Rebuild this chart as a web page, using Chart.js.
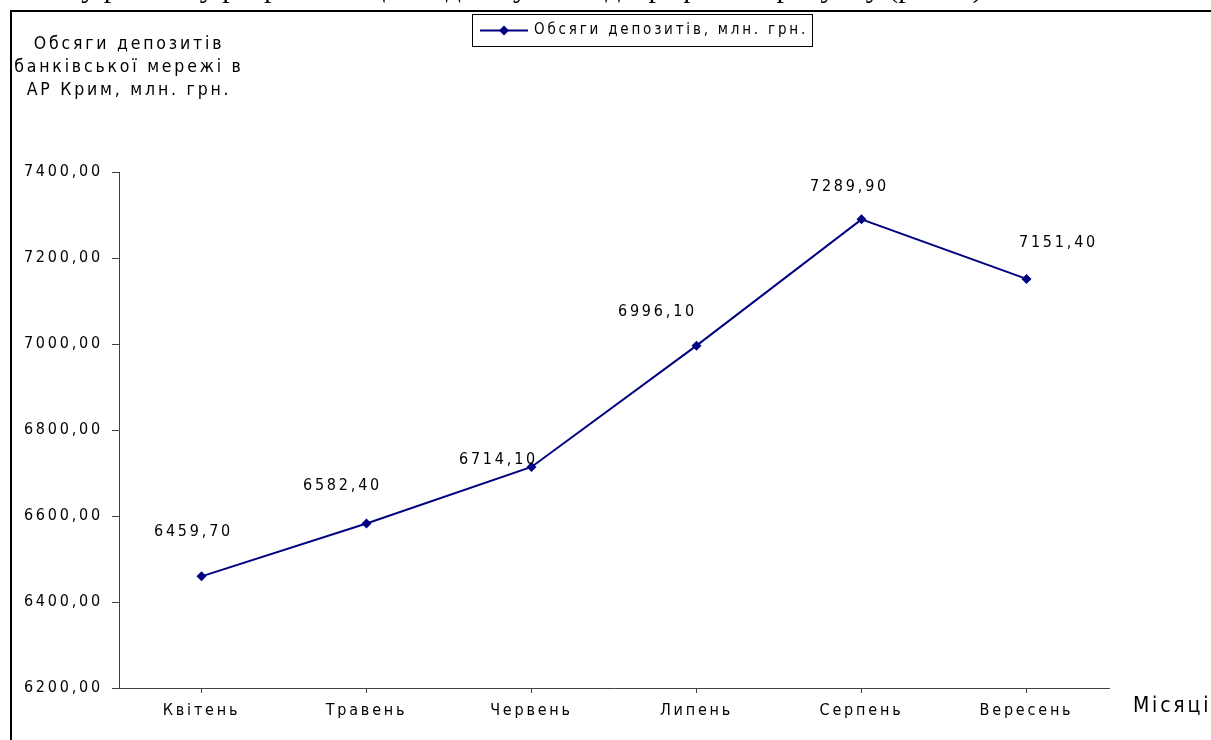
<!DOCTYPE html>
<html>
<head>
<meta charset="utf-8">
<script src="https://cdn.jsdelivr.net/npm/chart.js@4/dist/chart.umd.min.js"></script>
<style>
  html, body { margin: 0; padding: 0; background: #fff; overflow: hidden; }
</style>
</head>
<body>
<canvas id="chart" width="1211" height="740"></canvas>
<script>
// data
const months = ["Квітень", "Травень", "Червень", "Липень", "Серпень", "Вересень"];
const deposits = [6459.70, 6582.40, 6714.10, 6996.10, 7289.90, 7151.40];
const seriesName = "Обсяги депозитів, млн. грн.";
const yTitleLines = ["Обсяги депозитів", "банківської мережі в", "АР Крим, млн. грн."];
const xTitle = "Місяці";
const pageLine = "розподілу депозитів у регіоні у розрізі місяців подано у вигляді графіка на рисунку (рис. 1).";

// label placement (hand-placed in the original)
const labelOffsets = [[-9, -44], [-25, -38], [-34, -7], [-40, -34], [-13, -32], [31, -36]];

const NAVY = "#000080";
const AXIS = "#404040";
const FONT = "'Liberation Sans Narrow', 'DejaVu Sans Condensed', 'Liberation Sans', Arial, sans-serif";
const SPACING = "2.8px";

const fmt = v => v.toFixed(2).replace(".", ",");

Chart.defaults.font.family = FONT;
Chart.defaults.color = "#000";

const decor = {
  id: "decor",
  beforeUpdate(chart) { chart.ctx.letterSpacing = SPACING; },
  beforeDraw(chart) { chart.ctx.letterSpacing = SPACING; },
  afterDraw(chart) {
    const ctx = chart.ctx;
    ctx.save();
    ctx.fillStyle = "#000";

    // cut-off line of the page text above the chart
    ctx.letterSpacing = "0px";
    ctx.font = "30px 'Liberation Serif', 'Times New Roman', serif";
    ctx.textAlign = "right";
    ctx.textBaseline = "alphabetic";
    ctx.fillText(pageLine, 990, -3);

    // frame
    ctx.fillRect(10, 10, 1201, 2);
    ctx.fillRect(10, 10, 2, 730);

    ctx.letterSpacing = SPACING;

    // y axis title
    ctx.font = "17.5px " + FONT;
    ctx.textAlign = "center";
    ctx.textBaseline = "middle";
    yTitleLines.forEach((t, i) => ctx.fillText(t, 129, 44 + i * 23));

    // x axis title
    ctx.font = "21px " + FONT;
    ctx.textAlign = "left";
    ctx.fillText(xTitle, 1133, 707);

    // data labels
    ctx.font = "16px " + FONT;
    ctx.textAlign = "center";
    const pts = chart.getDatasetMeta(0).data;
    pts.forEach((p, i) => {
      const [dx, dy] = labelOffsets[i];
      ctx.fillText(fmt(deposits[i]), p.x + dx + 1, p.y + dy);
    });

    // legend
    ctx.lineWidth = 1;
    ctx.strokeStyle = "#000";
    ctx.strokeRect(472.5, 14.5, 340, 32);
    ctx.strokeStyle = NAVY;
    ctx.lineWidth = 2;
    ctx.beginPath();
    ctx.moveTo(480, 30.5);
    ctx.lineTo(528, 30.5);
    ctx.stroke();
    ctx.fillStyle = NAVY;
    ctx.beginPath();
    ctx.moveTo(504, 25.5);
    ctx.lineTo(509, 30.5);
    ctx.lineTo(504, 35.5);
    ctx.lineTo(499, 30.5);
    ctx.closePath();
    ctx.fill();
    ctx.fillStyle = "#000";
    ctx.font = "15px " + FONT;
    ctx.textAlign = "left";
    ctx.fillText(chart.data.datasets[0].label, 534, 30);
    ctx.restore();
  }
};

new Chart(document.getElementById("chart"), {
  type: "line",
  data: {
    labels: months,
    datasets: [{
      label: seriesName,
      data: deposits,
      borderColor: NAVY,
      backgroundColor: NAVY,
      borderWidth: 2,
      tension: 0,
      pointStyle: "rectRot",
      pointRadius: 5,
      pointBorderWidth: 0
    }]
  },
  options: {
    responsive: false,
    animation: false,
    layout: { padding: { left: 0, top: 172, right: 102, bottom: 0 } },
    plugins: { legend: { display: false }, tooltip: { enabled: false } },
    scales: {
      x: {
        offset: true,
        grid: { drawOnChartArea: false, tickLength: 5, color: AXIS },
        border: { color: AXIS },
        ticks: { font: { size: 16 }, padding: 8, maxRotation: 0 },
        afterFit: s => { s.height = 52; }
      },
      y: {
        min: 6200,
        max: 7400,
        grid: { drawOnChartArea: false, tickLength: 7, color: AXIS },
        border: { color: AXIS },
        ticks: { stepSize: 200, font: { size: 16 }, padding: 9, callback: v => fmt(v) },
        afterFit: s => { s.width = 119; }
      }
    }
  },
  plugins: [decor]
});
</script>
</body>
</html>
